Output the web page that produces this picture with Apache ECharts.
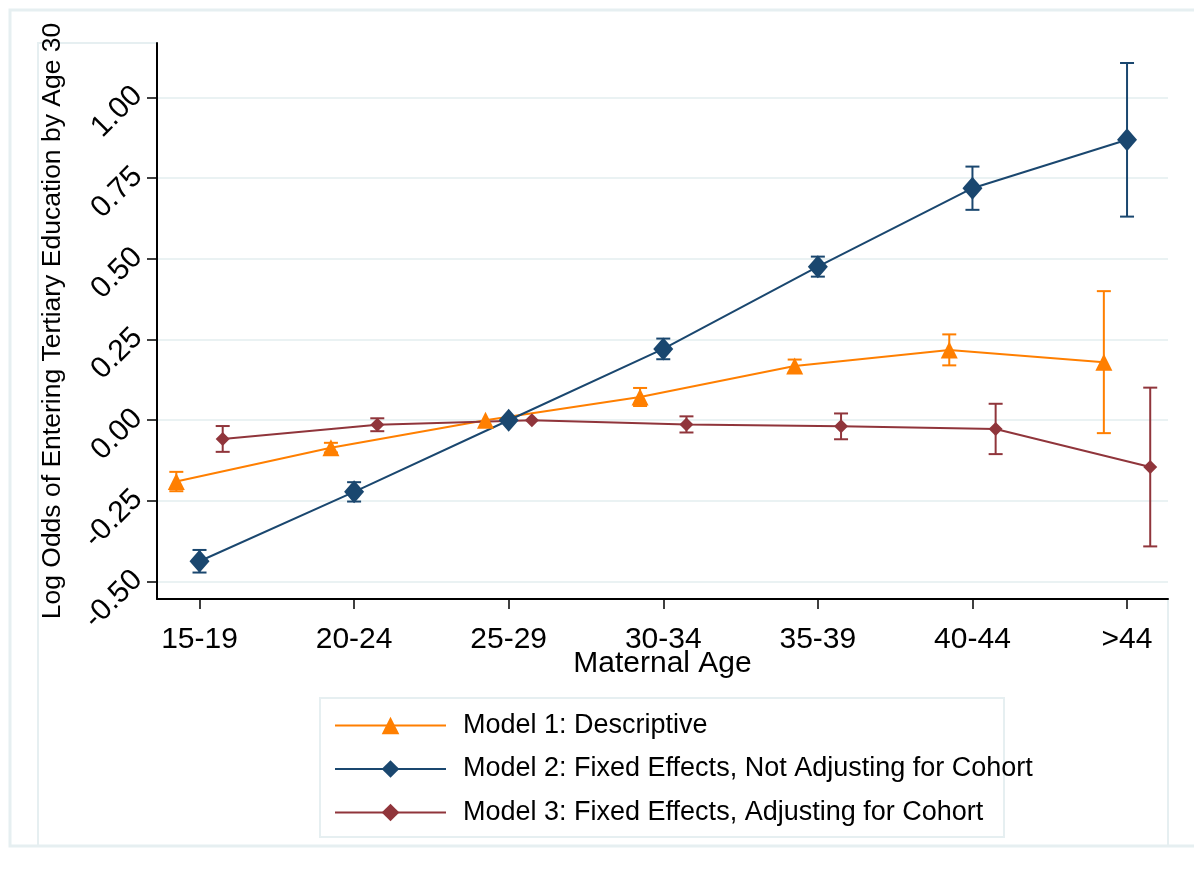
<!DOCTYPE html>
<html><head><meta charset="utf-8">
<script src="https://cdn.jsdelivr.net/npm/echarts@6/dist/echarts.min.js"></script>
<style>html,body{margin:0;padding:0;background:#fff}#c{width:1194px;height:871px}</style>
</head><body><div id="c"></div>
<script>
const categories = ['15-19', '20-24', '25-29', '30-34', '35-39', '40-44', '>44'];
const yTicks = [-0.5, -0.25, 0, 0.25, 0.5, 0.75, 1.0];
const seriesNames = [
  'Model 1: Descriptive',
  'Model 2: Fixed Effects, Not Adjusting for Cohort',
  'Model 3: Fixed Effects, Adjusting for Cohort'
];
const model1 = [-0.19, -0.085, 0, 0.072, 0.168, 0.218, 0.18];
const model1Err = [0.03, 0.015, 0, 0.028, 0.02, 0.048, 0.22];
const model2 = [-0.437, -0.222, 0, 0.221, 0.476, 0.719, 0.869];
const model2Err = [0.035, 0.03, 0, 0.032, 0.031, 0.067, 0.238];
const model3 = [-0.058, -0.014, 0, -0.013, -0.019, -0.027, -0.145];
const model3Err = [0.04, 0.02, 0, 0.025, 0.04, 0.078, 0.246];

const colors = ['#FF7F00', '#1A476F', '#90353B'];
const offsets = [-0.15, 0, 0.15];
const FONT = '"Liberation Sans", Arial, sans-serif';
const FRAME = '#E6EFF1';

function points(vals, off) { return vals.map((v, i) => [i + 1 + off, v]); }
function bars(vals, errs, off) {
  return vals.map((v, i) => [i + 1 + off, v - errs[i], v + errs[i], errs[i]]).filter(d => d[3] > 0);
}
function errRender(color) {
  return function (params, api) {
    const x = api.value(0);
    const lo = api.coord([x, api.value(1)]);
    const hi = api.coord([x, api.value(2)]);
    const hw = 7;
    const style = { stroke: color, lineWidth: 2 };
    return { type: 'group', children: [
      { type: 'line', shape: { x1: lo[0], y1: lo[1], x2: hi[0], y2: hi[1] }, style },
      { type: 'line', shape: { x1: lo[0] - hw, y1: lo[1], x2: lo[0] + hw, y2: lo[1] }, style },
      { type: 'line', shape: { x1: hi[0] - hw, y1: hi[1], x2: hi[0] + hw, y2: hi[1] }, style }
    ]};
  };
}

const vals = [model1, model2, model3];
const errs = [model1Err, model2Err, model3Err];
const symbols = ['triangle', 'diamond', 'diamond'];
const symbolSizes = [17, [20, 23], 14];

const series = [];
for (let k = 0; k < 3; k++) {
  series.push({
    type: 'custom', name: 'err' + k, z: 2,
    renderItem: errRender(colors[k]),
    data: bars(vals[k], errs[k], offsets[k]),
    encode: { x: 0, y: [1, 2] }
  });
}
for (let k = 0; k < 3; k++) {
  series.push({
    type: 'line', name: seriesNames[k], z: 3,
    data: points(vals[k], offsets[k]),
    symbol: symbols[k], symbolSize: symbolSizes[k], showSymbol: true,
    color: colors[k],
    lineStyle: { color: colors[k], width: 2 },
    itemStyle: { color: colors[k] }
  });
}

const chart = echarts.init(document.getElementById('c'));
chart.setOption({
  animation: false,
  backgroundColor: '#fff',
  textStyle: { fontFamily: FONT },
  grid: { left: 157, right: 26, top: 43, bottom: 272, outerBoundsMode: 'none' },
  xAxis: {
    type: 'value', min: 0.725, max: 7.265,
    name: 'Maternal Age', nameLocation: 'middle', nameGap: 50, nameMoveOverlap: false,
    nameTextStyle: { fontSize: 30, color: '#000', fontFamily: FONT },
    axisLine: { onZero: false, lineStyle: { color: '#000', width: 2 } },
    axisTick: { customValues: categories.map((c, i) => i + 1), length: 10, lineStyle: { color: '#000', width: 1.5 } },
    axisLabel: { customValues: categories.map((c, i) => i + 1), formatter: v => categories[Math.round(v) - 1],
                 fontSize: 30, color: '#000', margin: 26, fontFamily: FONT },
    splitLine: { show: false }
  },
  yAxis: {
    type: 'value', min: -0.554, max: 1.169,
    name: 'Log Odds of Entering Tertiary Education by Age 30', nameLocation: 'middle', nameGap: 91, nameMoveOverlap: false,
    nameTextStyle: { fontSize: 26.5, color: '#000', fontFamily: FONT },
    axisLine: { onZero: false, lineStyle: { color: '#000', width: 2 } },
    axisTick: { customValues: yTicks, length: 10, lineStyle: { color: '#000', width: 1.5 } },
    axisLabel: { customValues: yTicks, formatter: v => v.toFixed(2) + '\n ', rotate: 45, lineHeight: 18,
                 fontSize: 30, color: '#000', margin: 13, fontFamily: FONT },
    splitLine: { show: true, lineStyle: { color: '#EAF2F3', width: 2 } }
  },
  legend: {
    orient: 'vertical', left: 334, top: 712, padding: 0, itemWidth: 111, itemHeight: 22, itemGap: 16.5,
    data: seriesNames,
    textStyle: { fontSize: 27, color: '#000', fontFamily: FONT, padding: [0, 0, 0, 12] }
  },
  graphic: [
    { type: 'rect', z: -10, silent: true, shape: { x: 10, y: 10, width: 1300, height: 836 }, style: { fill: null, stroke: FRAME, lineWidth: 3 } },
    { type: 'rect', z: -10, silent: true, shape: { x: 38, y: 43, width: 1130, height: 803 }, style: { fill: null, stroke: FRAME, lineWidth: 2 } },
    { type: 'rect', z: -5, silent: true, shape: { x: 158, y: 40, width: 1012, height: 559 }, style: { fill: '#fff' } },
    { type: 'rect', z: -5, silent: true, shape: { x: 320, y: 698, width: 684, height: 139 }, style: { fill: null, stroke: FRAME, lineWidth: 2 } }
  ],
  series
});
</script></body></html>
